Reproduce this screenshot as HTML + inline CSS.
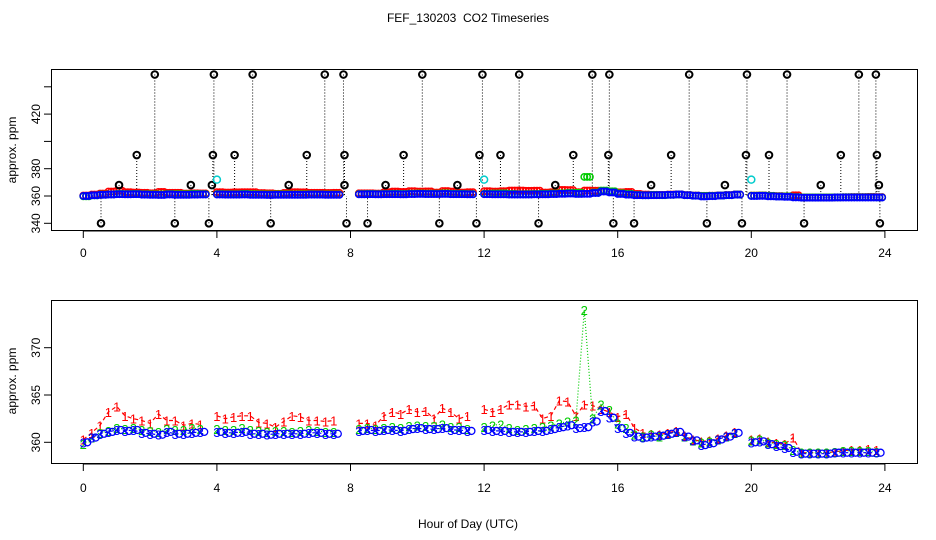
<!DOCTYPE html>
<html><head><meta charset="utf-8"><style>
html,body{margin:0;padding:0;background:#fff}
svg{display:block;font-family:"Liberation Sans",sans-serif}
</style></head><body>
<svg id="chart" width="936" height="540" viewBox="0 0 936 540" xmlns="http://www.w3.org/2000/svg">
<text x="468" y="22" font-size="12" text-anchor="middle">FEF_130203&#160; CO2 Timeseries</text>
<text x="468" y="528" font-size="12" text-anchor="middle">Hour of Day (UTC)</text>
<text transform="translate(16,150) rotate(-90)" font-size="12" text-anchor="middle">approx. ppm</text>
<text transform="translate(16,381) rotate(-90)" font-size="12" text-anchor="middle">approx. ppm</text>
<rect x="51.5" y="69.5" width="866" height="161" fill="none" stroke="#000"/>
<rect x="51.5" y="300.5" width="866" height="163" fill="none" stroke="#000"/>
<g id="layer"></g>
</svg>
<script>
const hours = [];
for (let i = 0; i < 96; i++) hours.push(i * 0.25);
const series1 = [360.3,361.0,361.8,363.2,363.8,362.8,362.5,362.3,362.0,363.0,362.3,362.3,361.8,362.0,361.9,null,
362.8,362.5,362.7,362.8,362.8,362.1,362.0,361.6,362.2,362.8,362.7,362.3,362.3,362.2,362.3,null,
null,362.0,362.0,361.8,362.8,363.2,363.0,363.5,363.2,363.3,362.5,363.6,363.2,362.5,362.8,null,
363.5,363.2,363.5,364.0,364.0,363.8,363.9,362.5,362.8,364.4,364.3,362.8,364.0,363.9,363.5,363.2,
362.7,363.0,361.5,361.0,360.9,360.8,361.0,361.2,360.7,360.3,360.1,360.2,360.4,360.7,361.1,null,
360.3,360.4,360.1,359.9,359.8,360.5,358.9,358.9,358.9,358.9,359.0,359.1,359.2,359.2,359.3,359.2];
const series2 = [359.8,360.5,361.0,361.2,361.5,361.4,361.5,361.3,361.2,361.1,361.4,361.3,361.3,361.5,361.4,null,
361.4,361.3,361.3,361.5,361.3,361.2,361.1,361.2,361.2,361.1,361.2,361.3,361.2,361.1,361.1,null,
null,361.4,361.5,361.4,361.5,361.6,361.5,361.7,361.8,361.7,361.7,361.9,361.6,361.6,361.4,null,
361.6,361.8,361.9,361.5,361.3,361.4,361.5,361.6,361.8,362.0,362.2,362.3,374.0,362.5,364.0,363.4,
362.0,361.5,360.8,360.6,360.8,360.6,360.9,361.1,360.6,360.2,360.0,360.1,360.3,360.6,361.0,null,
360.2,360.3,360.0,359.8,359.7,359.2,358.9,358.9,358.9,358.9,359.0,359.1,359.1,359.1,359.1,359.0];
const series3 = [360.0,360.5,360.9,361.1,361.3,361.2,361.3,361.0,360.9,360.8,361.1,360.9,360.9,361.0,361.1,null,
361.1,361.0,361.0,361.1,360.9,360.9,360.8,360.9,360.9,360.9,360.9,361.0,361.0,360.9,360.9,null,
null,361.2,361.3,361.2,361.3,361.3,361.2,361.4,361.5,361.4,361.4,361.5,361.3,361.3,361.2,null,
361.3,361.2,361.2,361.1,361.1,361.1,361.2,361.2,361.4,361.6,361.8,361.5,361.6,362.2,363.3,362.6,
361.5,361.0,360.6,360.5,360.6,360.7,360.9,361.1,360.6,360.2,359.7,359.9,360.3,360.6,361.0,null,
360.0,360.1,359.8,359.6,359.4,359.0,358.8,358.8,358.8,358.8,358.9,358.9,358.9,358.9,358.9,358.9];
const spikeHours = [2.14,3.91,5.07,7.23,7.79,10.15,11.95,13.05,15.24,15.75,18.14,19.87,21.07,23.22,23.73,
1.6,3.88,4.53,6.69,7.82,9.59,11.86,12.49,14.67,15.72,17.6,19.84,20.53,22.68,23.76,
1.07,3.22,3.85,6.15,7.82,9.05,11.2,14.13,17.0,19.21,22.08,23.82,
0.53,2.74,3.76,5.61,7.88,8.51,10.66,11.77,13.63,15.87,16.49,18.67,19.72,21.58,23.85];
const spikeValues = [449,449,449,449,449,449,449,449,449,449,449,449,449,449,449,
390,390,390,390,390,390,390,390,390,390,390,390,390,390,390,
368,368,368,368,368,368,368,368,368,368,368,368,
340,340,340,340,340,340,340,340,340,340,340,340,340,340,340];
const calHours = [4.0,12.0,20.0];
const calValues = [372,372,372];
const xTicks = [0,4,8,12,16,20,24];
const topYTicks = [340,360,380,400,420,440];
const topYLabels = ["340","360","380","","420",""];
const botYTicks = [360,365,370];

const NS="http://www.w3.org/2000/svg";
const layer=document.getElementById('layer');
function mk(t,a,p){const e=document.createElementNS(NS,t);for(const k in a)e.setAttribute(k,a[k]);(p||layer).appendChild(e);return e;}
const X=h=>83.3+h*33.4;
const YT=v=>196-(v-360)*1.365;
const YB=v=>442.3-(v-360)*9.46;

for(const [yAx,lab] of [[231,257],[464,492]]){
  let e=mk('line',{x1:X(0),x2:X(24),y1:yAx,y2:yAx,stroke:'#000'});
  
  
  xTicks.forEach(t=>{
    let l=mk('line',{x1:X(t),x2:X(t),y1:yAx,y2:yAx+7,stroke:'#000'});
    
    
    let tx=mk('text',{x:X(t),y:lab,'font-size':12,'text-anchor':'middle'});
    tx.textContent=t;
    
    
  });
}
topYTicks.forEach((t,i)=>{
  let l=mk('line',{x1:44,x2:51,y1:YT(t),y2:YT(t),stroke:'#000'});
  
  
  let tx=mk('text',{'font-size':12,'text-anchor':'middle',transform:`translate(40,${YT(t)}) rotate(-90)`});
  tx.textContent=topYLabels[i];
  
  
});
botYTicks.forEach(t=>{
  let l=mk('line',{x1:44,x2:51,y1:YB(t),y2:YB(t),stroke:'#000'});
  
  
  let tx=mk('text',{'font-size':12,'text-anchor':'middle',transform:`translate(40,${YB(t)}) rotate(-90)`});
  tx.textContent=t;
  
  
});

spikeHours.forEach((h,i)=>{
  let l=mk('line',{x1:X(h),x2:X(h),y1:YT(spikeValues[i]),y2:YT(360),stroke:'#000','stroke-dasharray':'1,2'});
  
  
});
const cols=['#ff0000','#00cc00','#0000ff'];
const all=[series1,series2,series3];
all.forEach((s,si)=>{
  s.forEach((v,i)=>{
    if(v===null)return;
    for(let k=0;k<3;k++){
      let c=mk('circle',{cx:X(hours[i])+k*2.8,cy:YT(v),r:3.2,fill:'none',stroke:cols[si],'stroke-width':1.5});
      
      
    }
  });
});
spikeHours.forEach((h,i)=>{
  let c=mk('circle',{cx:X(h),cy:YT(spikeValues[i]),r:3.3,fill:'none',stroke:'#000','stroke-width':2});
  
  
});
calHours.forEach((h,i)=>{
  let c=mk('circle',{cx:X(h),cy:YT(calValues[i]),r:3.5,fill:'none',stroke:'#00cccc','stroke-width':1.5});
  
  
});

const chars=['1','2','3'];
const dash=['4,3','1,2','3,3'];
all.forEach((s,si)=>{
  let d='',pen=false;
  s.forEach((v,i)=>{
    if(v===null){pen=false;return;}
    d+=(pen?'L':'M')+X(hours[i]).toFixed(1)+','+YB(v).toFixed(1);pen=true;
  });
  let p=mk('path',{d:d,fill:'none',stroke:cols[si],'stroke-dasharray':dash[si],'stroke-width':1.2});
  
  
  s.forEach((v,i)=>{
    if(v===null)return;
    let t=mk('text',{x:X(hours[i]),y:YB(v)+5,'font-size':13,'text-anchor':'middle',fill:cols[si]});
    t.textContent=chars[si];
    
    
    if(si===2){
      let c=mk('circle',{cx:X(hours[i])+4,cy:YB(v),r:3.5,fill:'none',stroke:cols[si],'stroke-width':1.3});
      
      
    }
  });
});
</script>
</body></html>
